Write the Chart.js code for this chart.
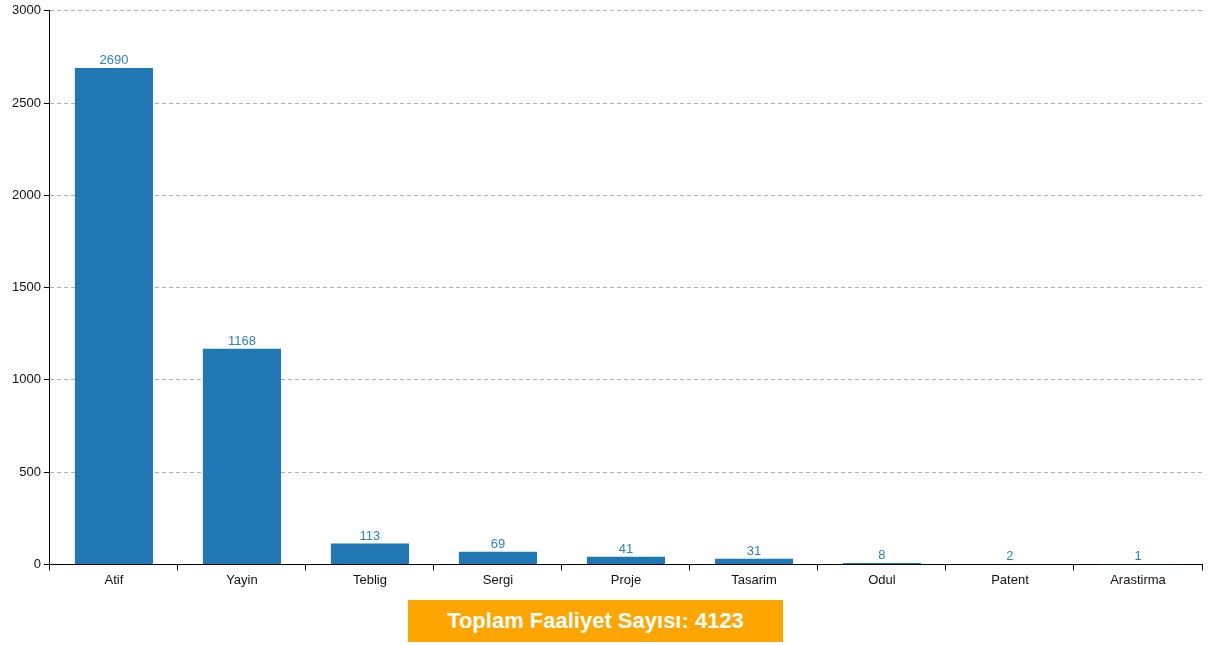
<!DOCTYPE html>
<html lang="tr">
<head>
    <meta charset="UTF-8">
    <title>Faaliyet</title>
    <script src="https://cdn.jsdelivr.net/npm/chart.js"></script>
    <style>
        body { margin: 0; background: #fff; font-family: "Liberation Sans", Arial, sans-serif; }
        #wrap { position: relative; width: 1214px; height: 645px; }
        #chartBox { position: absolute; left: 0; top: 0; width: 1214px; height: 590px; }
        #total {
            position: absolute; left: 408px; top: 600px; width: 375px; height: 42px;
            background: #ffa500; color: #fff; font-weight: bold; font-size: 22px;
            line-height: 42px; text-align: center;
        }
    </style>
</head>
<body>
<div id="wrap">
    <div id="chartBox"><canvas id="barChart"></canvas></div>
    <div id="total">Toplam Faaliyet Sayısı: 4123</div>
</div>
<script>
    const categories = ['Atif', 'Yayin', 'Teblig', 'Sergi', 'Proje', 'Tasarim', 'Odul', 'Patent', 'Arastirma'];
    const counts = [2690, 1168, 113, 69, 41, 31, 8, 2, 1];
    const yTicks = [0, 500, 1000, 1500, 2000, 2500, 3000];

    // values above each bar
    const valueLabels = {
        id: 'valueLabels',
        afterDatasetsDraw(chart) {
            const ctx = chart.ctx;
            const meta = chart.getDatasetMeta(0);
            ctx.save();
            ctx.fillStyle = '#2f80c2';
            ctx.font = '13px "Liberation Sans", Arial, sans-serif';
            ctx.textAlign = 'center';
            ctx.textBaseline = 'bottom';
            meta.data.forEach((bar, i) => {
                ctx.fillText(counts[i], bar.x, bar.y - 1);
            });
            ctx.restore();
        }
    };

    new Chart(document.getElementById('barChart'), {
        type: 'bar',
        data: {
            labels: categories,
            datasets: [{
                data: counts,
                backgroundColor: '#1f77b4',
                barPercentage: 0.61,
                categoryPercentage: 1
            }]
        },
        options: {
            responsive: true,
            maintainAspectRatio: false,
            animation: false,
            layout: { padding: { top: 4, right: 12, left: 9, bottom: 0 } },
            plugins: { legend: { display: false }, tooltip: { enabled: false } },
            scales: {
                x: {
                    offset: true,
                    grid: {
                        display: true, drawOnChartArea: false, drawTicks: true,
                        tickLength: 6, color: '#000', offset: true
                    },
                    border: { display: true, color: '#000', width: 1 },
                    ticks: { color: '#111', font: { size: 13, family: '"Liberation Sans", Arial' }, padding: 2, maxRotation: 0 }
                },
                y: {
                    min: 0, max: 3000,
                    afterBuildTicks(axis) { axis.ticks = yTicks.map(v => ({ value: v })); },
                    grid: {
                        color: '#b0b0b0', tickColor: '#000', tickLength: 6, drawTicks: true
                    },
                    border: { display: true, color: '#000', width: 1, dash: [4, 3] },
                    ticks: {
                        color: '#111', font: { size: 13, family: '"Liberation Sans", Arial' }, padding: 3,
                        callback: v => String(v)
                    }
                }
            }
        },
        plugins: [valueLabels]
    });
</script>
</body>
</html>
